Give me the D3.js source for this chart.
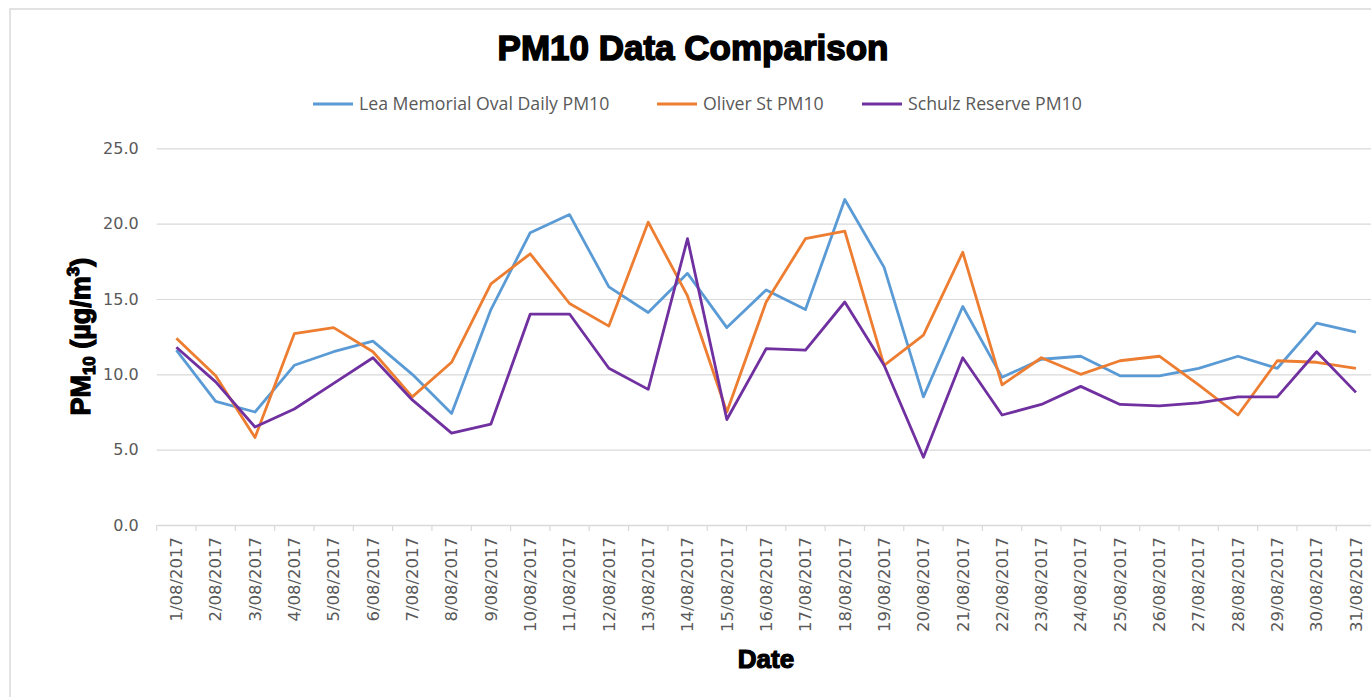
<!DOCTYPE html>
<html>
<head>
<meta charset="utf-8">
<script src="https://d3js.org/d3.v7.min.js"></script>
<style>
body { margin:0; background:#fff; }
svg { display:block; }
</style>
</head>
<body>
<div id="chart"></div>
<script>

var dates = ["1/08/2017","2/08/2017","3/08/2017","4/08/2017","5/08/2017","6/08/2017","7/08/2017","8/08/2017",
    "9/08/2017","10/08/2017","11/08/2017","12/08/2017","13/08/2017","14/08/2017","15/08/2017","16/08/2017",
    "17/08/2017","18/08/2017","19/08/2017","20/08/2017","21/08/2017","22/08/2017","23/08/2017","24/08/2017",
    "25/08/2017","26/08/2017","27/08/2017","28/08/2017","29/08/2017","30/08/2017","31/08/2017"];

var leaMemorial = [11.6, 8.2, 7.5, 10.6, 11.5, 12.2, 10.0, 7.4, 14.3, 19.4, 20.6, 15.8, 14.1, 16.7, 13.1, 15.6,
    14.3, 21.6, 17.1, 8.5, 14.5, 9.8, 11.0, 11.2, 9.9, 9.9, 10.4, 11.2, 10.4, 13.4, 12.8];
var oliverSt = [12.4, 9.9, 5.8, 12.7, 13.1, 11.5, 8.5, 10.8, 16.0, 18.0, 14.7, 13.2, 20.1, 15.2, 7.5, 14.8,
    19.0, 19.5, 10.6, 12.6, 18.1, 9.3, 11.1, 10.0, 10.9, 11.2, 9.3, 7.3, 10.9, 10.8, 10.4];
var schulzReserve = [11.8, 9.5, 6.5, 7.7, 9.4, 11.1, 8.3, 6.1, 6.7, 14.0, 14.0, 10.4, 9.0, 19.0, 7.0, 11.7,
    11.6, 14.8, 10.6, 4.5, 11.1, 7.3, 8.0, 9.2, 8.0, 7.9, 8.1, 8.5, 8.5, 11.5, 8.8];

var seriesNames = ["Lea Memorial Oval Daily PM10", "Oliver St PM10", "Schulz Reserve PM10"];
var seriesColors = ["#5B9BD5", "#ED7D31", "#7030A0"];
var yTicks = [0, 5, 10, 15, 20, 25];

var width = 1371, height = 697;
var plot = {left:156.7, right:1375.6, top:148.3, bottom:525};

var svg = d3.select("#chart").append("svg")
    .attr("width", width)
    .attr("height", height);

// chart frame (cut off at right/bottom like the screenshot)
svg.append("rect")
    .attr("x", 10).attr("y", 9)
    .attr("width", width + 20).attr("height", height + 20)
    .attr("fill", "#fff")
    .attr("stroke", "#d9d9d9")
    .attr("stroke-width", 1.5);

var x = d3.scaleBand().domain(dates).range([plot.left, plot.right]);
var y = d3.scaleLinear().domain([0, 25]).range([plot.bottom, plot.top]);

// gridlines + y labels
var yAxis = d3.axisLeft(y)
    .tickValues(yTicks)
    .tickSize(-(plot.right - plot.left))
    .tickPadding(18)
    .tickFormat(d3.format(".1f"));

var gy = svg.append("g")
    .attr("transform", "translate(" + plot.left + ",0)")
    .call(yAxis);
gy.select(".domain").remove();
gy.selectAll(".tick line").attr("stroke", "#d9d9d9").attr("stroke-width", 1.2);
gy.selectAll(".tick text")
    .attr("fill", "#595959")
    .style("font-family", "'DejaVu Sans', sans-serif")
    .style("font-size", "16px");

// x axis
var xAxis = d3.axisBottom(x).tickSize(0).tickPadding(0);
var gx = svg.append("g")
    .attr("transform", "translate(0," + plot.bottom + ")")
    .call(xAxis);
gx.select(".domain").attr("stroke", "#d9d9d9").attr("stroke-width", 1.5);
gx.selectAll(".tick text")
    .attr("fill", "#595959")
    .attr("text-anchor", "end")
    .attr("transform", "translate(0,12) rotate(-90)")
    .attr("x", 0).attr("y", 0).attr("dy", "0.35em")
    .style("font-family", "'DejaVu Sans', sans-serif")
    .style("font-size", "16.5px");

// tick marks at band boundaries
svg.append("g").selectAll("line")
    .data(dates.concat(["end"]))
    .enter().append("line")
    .attr("x1", function(d, i){ return plot.left + i * x.step(); })
    .attr("x2", function(d, i){ return plot.left + i * x.step(); })
    .attr("y1", plot.bottom)
    .attr("y2", plot.bottom + 6)
    .attr("stroke", "#d9d9d9")
    .attr("stroke-width", 1.2);

// lines
var allSeries = [leaMemorial, oliverSt, schulzReserve];
var line = d3.line()
    .x(function(d, i){ return x(dates[i]) + x.bandwidth() / 2; })
    .y(function(d){ return y(d); });

svg.append("g").selectAll("path")
    .data(allSeries)
    .enter().append("path")
    .attr("d", line)
    .attr("fill", "none")
    .attr("stroke", function(d, i){ return seriesColors[i]; })
    .attr("stroke-width", 2.8)
    .attr("stroke-linejoin", "round");

// title
svg.append("text")
    .attr("x", 693).attr("y", 60)
    .attr("text-anchor", "middle")
    .style("font-family", "'Liberation Sans', Arial, sans-serif")
    .style("font-weight", "bold")
    .style("font-size", "35px")
    .attr("fill", "#000")
    .attr("stroke", "#000")
    .attr("stroke-width", 1.5)
    .text("PM10 Data Comparison");

// legend
var legendX = [313, 657, 862];
var legend = svg.append("g").selectAll("g")
    .data(seriesNames)
    .enter().append("g")
    .attr("transform", function(d, i){ return "translate(" + legendX[i] + ",104)"; });
legend.append("line")
    .attr("x1", 0).attr("x2", 40)
    .attr("stroke", function(d, i){ return seriesColors[i]; })
    .attr("stroke-width", 3);
legend.append("text")
    .attr("x", 46).attr("dy", "0.35em")
    .attr("fill", "#595959")
    .style("font-family", "'Open Sans', sans-serif")
    .style("font-size", "17.7px")
    .text(function(d){ return d; });

// axis titles
svg.append("text")
    .attr("x", 766).attr("y", 668)
    .attr("text-anchor", "middle")
    .style("font-family", "'Liberation Sans', Arial, sans-serif")
    .style("font-weight", "bold")
    .style("font-size", "26px")
    .attr("stroke", "#000").attr("stroke-width", 1.2)
    .text("Date");

var yTitle = svg.append("text")
    .attr("transform", "translate(90," + ((plot.top + plot.bottom) / 2) + ") rotate(-90)")
    .attr("text-anchor", "middle")
    .style("font-family", "'Liberation Sans', Arial, sans-serif")
    .style("font-weight", "bold")
    .style("font-size", "27px")
    .attr("stroke", "#000").attr("stroke-width", 1.2);
yTitle.append("tspan").text("PM");
yTitle.append("tspan").attr("dy", 5).style("font-size", "17px").text("10");
yTitle.append("tspan").attr("dy", -5).text(" (µg/m");
yTitle.append("tspan").attr("dy", -11).style("font-size", "17px").text("3");
yTitle.append("tspan").attr("dy", 11).text(")");

</script>
</body>
</html>
